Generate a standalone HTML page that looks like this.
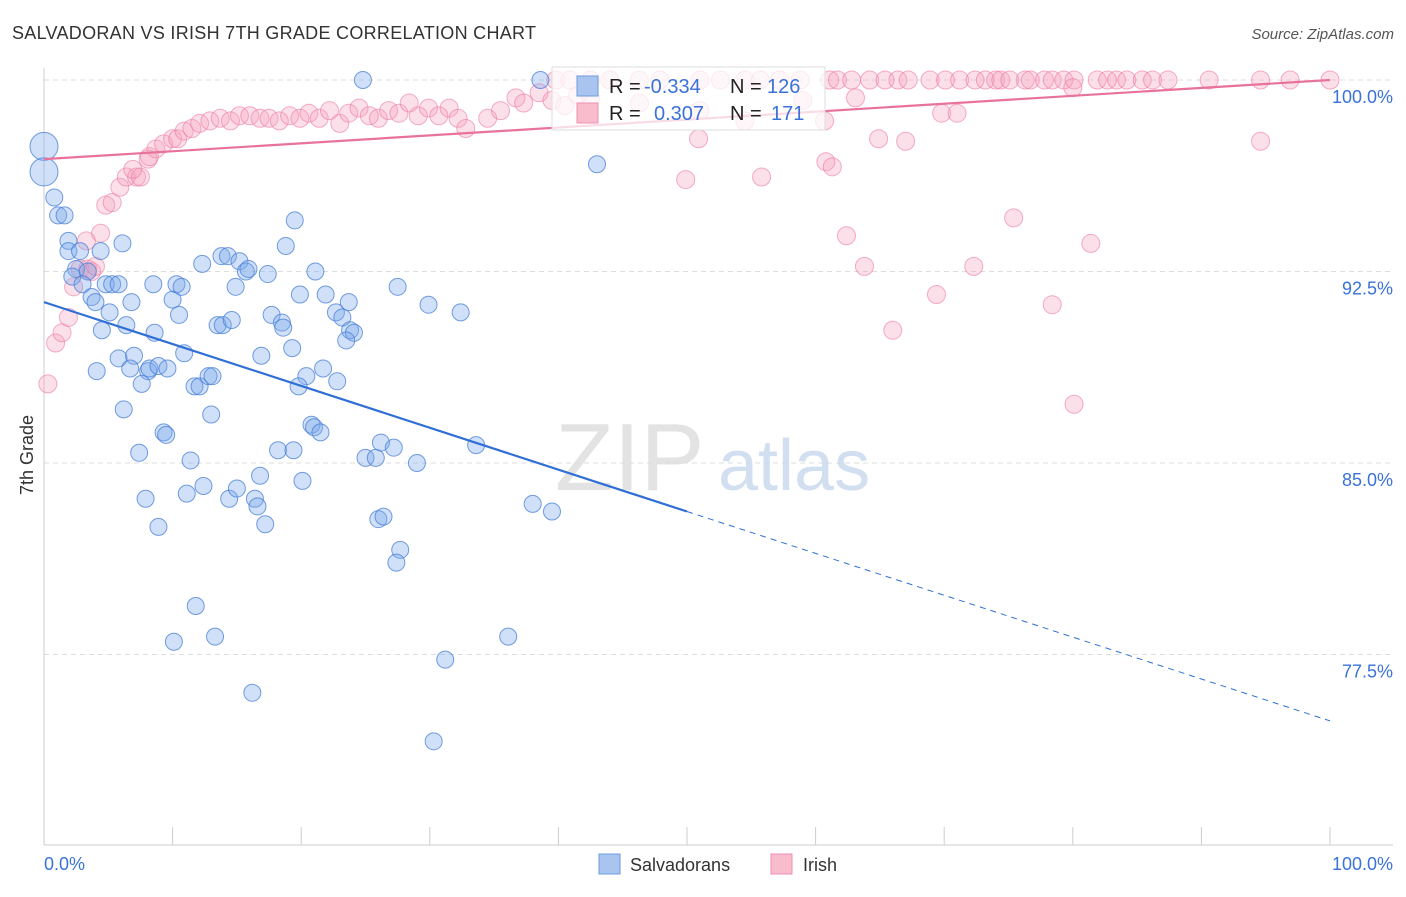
<!DOCTYPE html>
<html><head><meta charset="utf-8"><style>
body{margin:0;background:#fff;font-family:"Liberation Sans",sans-serif;}
svg text{font-family:"Liberation Sans",sans-serif;}
</style></head><body>
<svg id="chart" width="1406" height="892" viewBox="0 0 1406 892" xmlns="http://www.w3.org/2000/svg">
<text x="12" y="39" font-size="18" fill="#333" textLength="524">SALVADORAN VS IRISH 7TH GRADE CORRELATION CHART</text>
<text x="1394" y="39" font-size="15" fill="#555" text-anchor="end" font-style="italic">Source: ZipAtlas.com</text>
<g id="grid"></g>
<g id="axes"></g>
<text x="555" y="490" font-size="96" fill="#ddd" font-family="Liberation Serif" opacity="0.8">ZIP</text>
<text x="718" y="490" font-size="72" fill="#c8d8ee" opacity="0.8">atlas</text>
<g id="pink"></g>
<g id="blue"></g>
<g id="lines"></g>
<text transform="translate(33,455) rotate(-90)" font-size="18" fill="#333" text-anchor="middle">7th Grade</text>
<g>
<rect x="552" y="67" width="273" height="63" fill="#fff" fill-opacity="0.75" stroke="#ddd"/>
<rect x="577" y="76" width="21" height="20" fill="#a9c4ee" stroke="#6d9be0"/>
<rect x="577" y="103" width="21" height="20" fill="#f8bccd" stroke="#ee91ae"/>
<text x="609" y="93" font-size="20" fill="#222">R =</text>
<text x="644" y="93" font-size="20" fill="#3a72d8">-0.334</text>
<text x="730" y="93" font-size="20" fill="#222">N =</text>
<text x="767" y="93" font-size="20" fill="#3a72d8">126</text>
<text x="609" y="120" font-size="20" fill="#222">R =</text>
<text x="654" y="120" font-size="20" fill="#3a72d8">0.307</text>
<text x="730" y="120" font-size="20" fill="#222">N =</text>
<text x="771" y="120" font-size="20" fill="#3a72d8">171</text>
</g>
<g>
<rect x="599" y="854" width="21" height="20" fill="#a9c4ee" stroke="#6d9be0"/>
<text x="630" y="871" font-size="18" fill="#333">Salvadorans</text>
<rect x="771" y="854" width="21" height="20" fill="#f8bccd" stroke="#ee91ae"/>
<text x="803" y="871" font-size="18" fill="#333">Irish</text>
</g>
</svg>
<script>
const yTicks=[100,92.5,85,77.5];
const yTickLabels=["100.0%","92.5%","85.0%","77.5%"];
const xLabels=["0.0%","100.0%"];
const blueX=[0,0,0.8,1.1,1.6,1.9,1.9,2.8,4.4,6.1,2.5,2.2,3.4,3.0,3.7,4.0,4.8,5.3,5.8,5.1,4.5,6.8,6.4,8.5,10.0,10.3,10.7,10.5,8.6,10.9,5.8,7.0,4.1,6.7,8.1,8.2,8.9,9.6,7.6,6.2,11.7,12.1,12.8,13.1,13.0,9.3,9.5,7.4,11.4,12.4,11.1,7.9,8.9,14.4,15.0,16.4,16.6,16.8,17.2,11.8,10.1,13.3,16.2,12.3,13.8,14.3,15.2,15.7,15.9,14.9,17.4,18.8,19.5,21.1,19.9,21.9,13.5,13.9,14.6,17.7,18.5,18.6,16.9,19.3,22.7,23.2,23.7,23.8,24.1,23.5,21.7,20.4,19.8,22.8,27.5,29.9,32.4,20.8,21.0,21.5,18.2,19.4,20.1,25.0,25.8,26.2,27.2,29.0,26.0,26.4,27.7,27.4,33.6,38.0,39.5,36.1,31.2,30.3,24.8,38.6,43.0];
const blueY=[97.4,96.4,95.4,94.7,94.7,93.7,93.3,93.3,93.3,93.6,92.6,92.3,92.5,92.0,91.5,91.3,92.0,92.0,92.0,90.9,90.2,91.3,90.4,92.0,91.4,92.0,91.9,90.8,90.1,89.3,89.1,89.2,88.6,88.7,88.6,88.7,88.8,88.7,88.1,87.1,88.0,88.0,88.4,88.4,86.9,86.2,86.1,85.4,85.1,84.1,83.8,83.6,82.5,83.6,84.0,83.6,83.3,84.5,82.6,79.4,78.0,78.2,76.0,92.8,93.1,93.1,92.9,92.5,92.6,91.9,92.4,93.5,94.5,92.5,91.6,91.6,90.4,90.4,90.6,90.8,90.5,90.3,89.2,89.5,90.9,90.7,91.3,90.2,90.1,89.8,88.7,88.4,88.0,88.2,91.9,91.2,90.9,86.5,86.4,86.2,85.5,85.5,84.3,85.2,85.2,85.8,85.6,85.0,82.8,82.9,81.6,81.1,85.7,83.4,83.1,78.2,77.3,74.1,100,100,96.7];
const blueBig=[0,1];
const pinkX=[0.3,0.9,1.4,1.9,2.3,2.8,3.4,3.7,4.0,3.3,4.4,4.8,5.3,5.9,6.4,7.2,7.5,6.9,8.1,8.2,8.7,9.3,10.0,10.4,10.9,11.5,12.1,12.9,
13.7,14.5,15.2,16.0,16.8,17.5,18.3,19.1,19.9,20.6,21.4,22.2,23.0,23.7,24.5,25.3,26.0,26.8,27.6,28.4,29.1,29.9,30.7,31.5,32.2,32.8,34.5,35.5,36.7,37.3,38.5,39.5,40.5,41.5,42.5,
39.8,40.9,42.5,44.0,46.3,47.9,51.0,52.6,54.5,55.7,57.2,58.8,61.1,61.7,62.8,64.2,65.4,66.4,67.2,68.9,70.1,71.2,72.4,73.2,74.0,74.4,75.1,76.3,76.7,77.8,78.4,79.3,80.1,81.9,82.7,83.4,84.2,85.4,86.2,87.4,90.6,94.6,96.9,100,
46.3,51.0,54.5,59.0,60.7,63.1,80.0,50.9,49.9,55.8,60.8,61.3,64.9,67.0,69.8,71.0,94.6,75.4,81.4,62.4,63.8,72.3,69.4,78.4,66.0,80.1];
const pinkY=[88.1,89.7,90.1,90.7,91.9,92.6,92.6,92.5,92.7,93.7,94.0,95.1,95.2,95.8,96.2,96.2,96.2,96.5,96.9,97.0,97.3,97.5,97.7,97.7,98.0,98.1,98.3,98.4,
98.5,98.4,98.6,98.6,98.5,98.5,98.4,98.6,98.5,98.7,98.5,98.8,98.3,98.7,98.9,98.6,98.5,98.8,98.7,99.1,98.6,98.9,98.6,98.9,98.5,98.1,98.5,98.8,99.3,99.1,99.5,99.2,99.0,99.4,99.3,
100,100,100,100,100,100,100,100,100,100,100,
100,100,100,100,100,100,100,100,100,100,100,
100,100,100,100,100,100,100,100,100,100,100,
100,100,100,100,100,100,100,100,100,100,100,
99.1,98.8,98.4,99.2,98.4,99.3,99.7,97.7,96.1,96.2,96.8,96.6,97.7,97.6,98.7,98.7,97.6,94.6,93.6,93.9,92.7,92.7,91.6,91.2,90.2,87.3];
const blueTrend=[[0,91.3],[50,83.1],[100,74.9]];
const pinkTrend=[[0,96.9],[100,100.0]];

const X0=44,X1=1330,YTOP=80,PX_PER=191.5/7.5;
const sx=v=>X0+(X1-X0)*v/100;
const sy=v=>YTOP+(100-v)*PX_PER;
const NS="http://www.w3.org/2000/svg";
function mk(tag,attrs,parent){const e=document.createElementNS(NS,tag);for(const k in attrs)e.setAttribute(k,attrs[k]);parent.appendChild(e);return e;}
const grid=document.getElementById('grid'),axes=document.getElementById('axes');
yTicks.forEach((t,i)=>{
 const g=mk('line',{x1:44,x2:1393,y1:sy(t),y2:sy(t),stroke:'#ddd','stroke-dasharray':'5,4'},grid);
 
 
 const l=mk('text',{x:1393,y:sy(t)+23,'font-size':18,fill:'#3a72d8','text-anchor':'end'},axes);
 l.textContent=yTickLabels[i];
 
 
});
const xa=mk('line',{x1:44,x2:1393,y1:845,y2:845,stroke:'#ccc'},axes);


const ya=mk('line',{x1:44,x2:44,y1:68,y2:845,stroke:'#ccc'},axes);


for(let i=0;i<=10;i++){const t=mk('line',{x1:sx(i*10),x2:sx(i*10),y1:827,y2:845,stroke:'#ccc'},axes);
 
 }
const xl0=mk('text',{x:44,y:870,'font-size':18,fill:'#3a72d8'},axes);xl0.textContent=xLabels[0];


const xl1=mk('text',{x:1393,y:870,'font-size':18,fill:'#3a72d8','text-anchor':'end'},axes);xl1.textContent=xLabels[1];



const pg=document.getElementById('pink');
pinkX.forEach((x,i)=>{const c=mk('circle',{cx:sx(x),cy:sy(pinkY[i]),r:9,fill:'rgba(246,160,188,0.32)',stroke:'rgba(236,120,158,0.6)','stroke-width':1},pg);
 
 });
const bg=document.getElementById('blue');
blueX.forEach((x,i)=>{const c=mk('circle',{cx:sx(x),cy:sy(blueY[i]),r:blueBig.includes(i)?14:8.5,fill:'rgba(120,165,235,0.35)',stroke:'rgba(70,125,215,0.75)','stroke-width':1},bg);
 
 });
const lg=document.getElementById('lines');
const b1=mk('line',{x1:sx(blueTrend[0][0]),y1:sy(blueTrend[0][1]),x2:sx(blueTrend[1][0]),y2:sy(blueTrend[1][1]),stroke:'#2f6fd6','stroke-width':2.2},lg);


const b2=mk('line',{x1:sx(blueTrend[1][0]),y1:sy(blueTrend[1][1]),x2:sx(blueTrend[2][0]),y2:sy(blueTrend[2][1]),stroke:'#2f6fd6','stroke-width':1,'stroke-dasharray':'6,5'},lg);


const p1=mk('line',{x1:sx(pinkTrend[0][0]),y1:sy(pinkTrend[0][1]),x2:sx(pinkTrend[1][0]),y2:sy(pinkTrend[1][1]),stroke:'#e8729a','stroke-width':2.2},lg);


</script>
</body></html>
